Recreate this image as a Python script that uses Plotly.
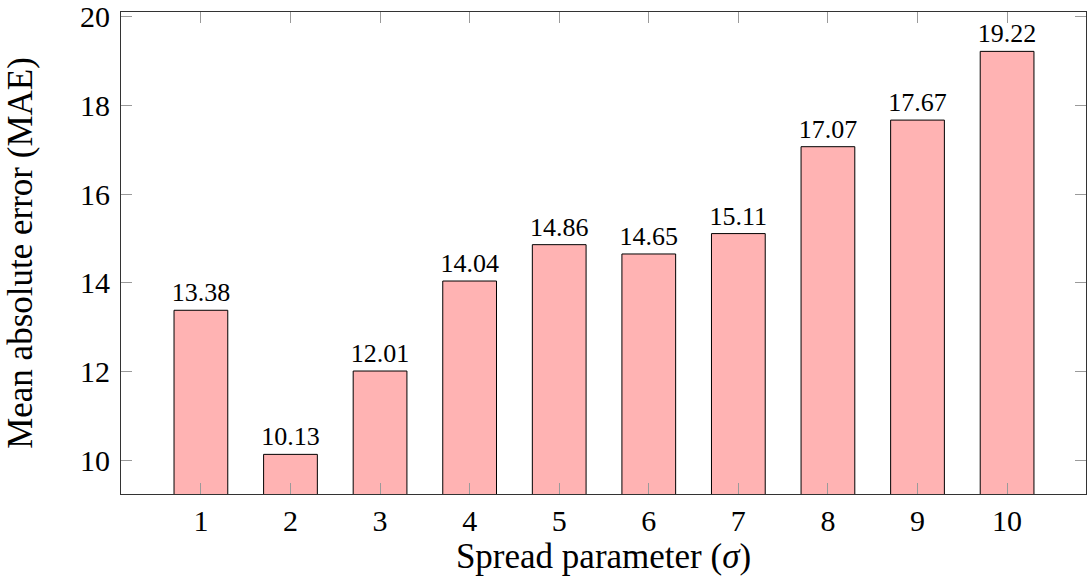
import plotly.graph_objects as go

sigma = [1, 2, 3, 4, 5, 6, 7, 8, 9, 10]
mae = [13.38, 10.13, 12.01, 14.04, 14.86, 14.65, 15.11, 17.07, 17.67, 19.22]
y_ticks = [10, 12, 14, 16, 18, 20]

FONT = "'Liberation Serif', 'DejaVu Serif', serif"

fig = go.Figure()
fig.add_trace(go.Bar(
    x=sigma,
    y=mae,
    width=0.6,
    marker=dict(color="#FFB3B3", line=dict(color="#000000", width=1)),
    text=[f"{v:.2f}" for v in mae],
    textposition="outside",
    constraintext="none",
    cliponaxis=False,
    textfont=dict(family=FONT, size=26, color="#000000"),
    hoverinfo="skip",
))

fig.update_layout(
    width=1087,
    height=581,
    margin=dict(l=121, r=0, t=10, b=87),
    paper_bgcolor="white",
    plot_bgcolor="white",
    showlegend=False,
    font=dict(family=FONT, color="#000000"),
)

fig.update_xaxes(
    range=[0.108, 10.881],
    tickmode="array",
    tickvals=sigma,
    ticktext=[str(s) for s in sigma],
    ticks="inside",
    ticklen=11,
    tickcolor="#9a9a9a",
    tickwidth=1,
    showline=True,
    linecolor="#333333",
    linewidth=1,
    mirror="ticks",
    showgrid=False,
    zeroline=False,
    ticklabeloverflow="allow",
    tickfont=dict(family=FONT, size=30, color="#000000"),
    title=dict(text="Spread parameter (<i>σ</i>)", font=dict(family=FONT, size=35, color="#000000"), standoff=6),
)

fig.update_yaxes(
    range=[9.236, 20.108],
    tickmode="array",
    tickvals=y_ticks,
    ticktext=[str(t) for t in y_ticks],
    ticks="inside",
    ticklen=11,
    tickcolor="#9a9a9a",
    tickwidth=1,
    showline=True,
    linecolor="#333333",
    linewidth=1,
    mirror="ticks",
    showgrid=False,
    zeroline=False,
    ticklabeloverflow="allow",
    ticklabelstandoff=4,
    tickfont=dict(family=FONT, size=30, color="#000000"),
    title=dict(text="Mean absolute error (MAE)", font=dict(family=FONT, size=35, color="#000000"), standoff=36),
)

fig.write_html("out.html")
